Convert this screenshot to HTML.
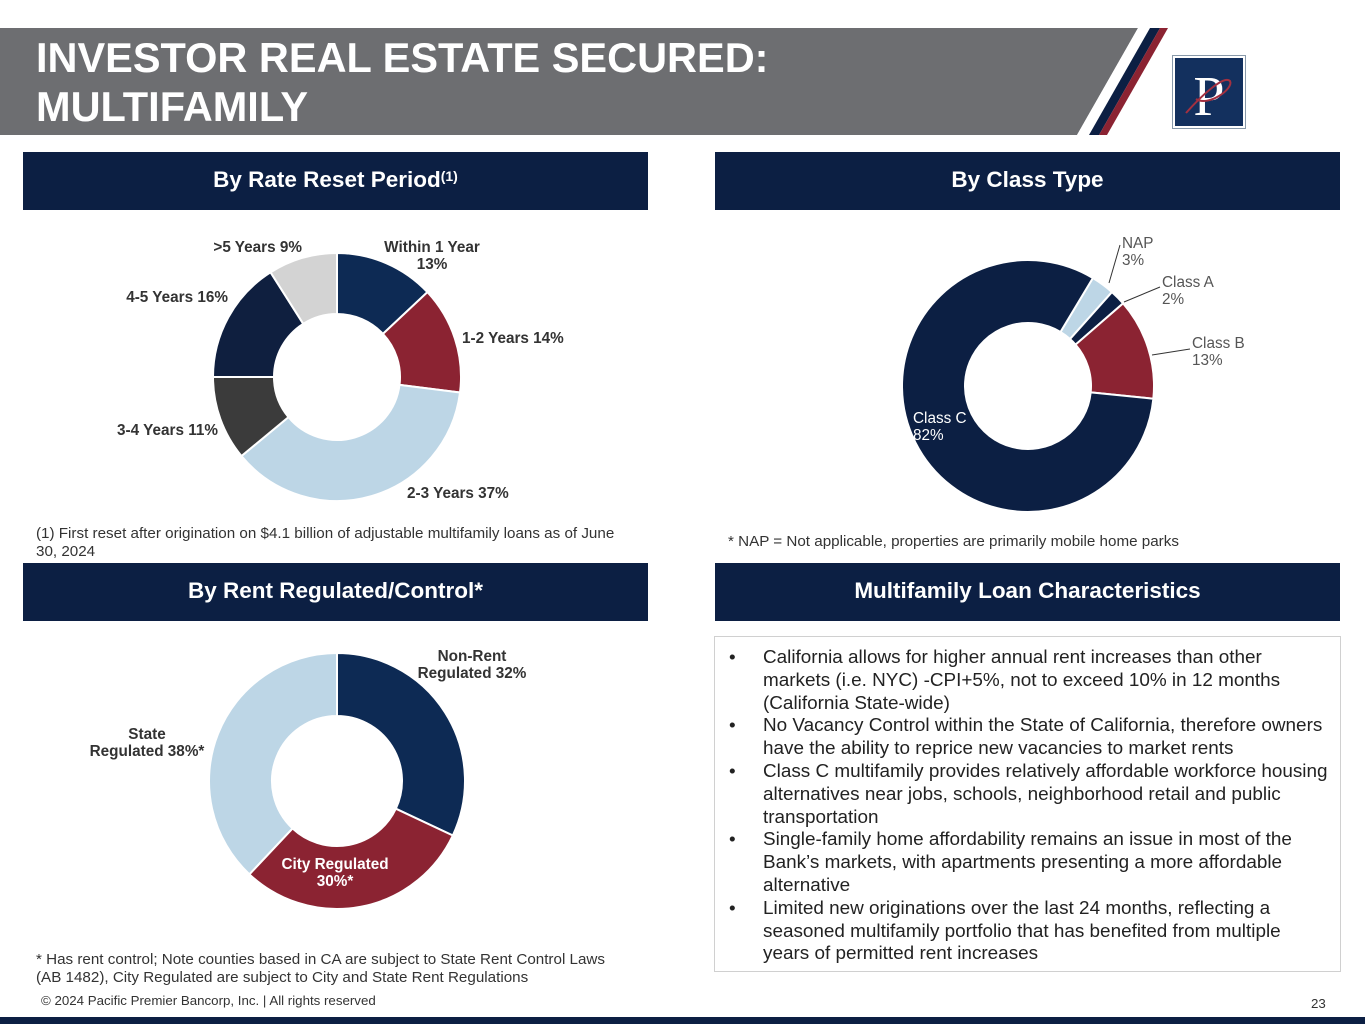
<!DOCTYPE html>
<html><head><meta charset="utf-8"><style>
body{margin:0;width:1365px;height:1024px;position:relative;background:#fff;font-family:"Liberation Sans",Arial,sans-serif;overflow:hidden}
.abs{position:absolute}
.hdr{position:absolute;background:#0c1f43;color:#fff;font-weight:bold;font-size:22.5px;display:flex;align-items:center;justify-content:center;padding-bottom:2px;box-sizing:border-box}
.bul{display:flex;font-size:18.9px;line-height:22.8px;color:#222}
.bul span:first-child{width:48px;flex:none;padding-left:14px;box-sizing:border-box}
.bul span:last-child{padding-right:8px}
</style></head><body>
<svg class="abs" style="left:0;top:0" width="1365" height="140">
<polygon points="0,28 1138,28 1077,135 0,135" fill="#6d6e71"/>
<polygon points="1138,28 1150,28 1089,135 1077,135" fill="#fff"/>
<polygon points="1150,28 1160,28 1099,135 1089,135" fill="#0c1f43"/>
<polygon points="1160,28 1168,28 1107,135 1099,135" fill="#8b2332"/>
</svg>
<div class="abs" style="left:36px;top:33px;color:#fff;font-weight:bold;font-size:41.5px;line-height:49px">INVESTOR REAL ESTATE SECURED:<br>MULTIFAMILY</div>
<svg class="abs" style="left:1172px;top:55px" width="74" height="74">
<rect x="0.5" y="0.5" width="73" height="73" fill="#fff" stroke="#8899aa"/><rect x="3" y="3" width="68" height="68" fill="#13305e"/>
<text x="37" y="60" font-family="Liberation Serif" font-size="56" fill="#fff" text-anchor="middle">P</text>
<path d="M14 58 C30 40 52 20 58 26 C62 34 36 52 24 44" fill="none" stroke="#a33040" stroke-width="2"/>
</svg>

<div class="hdr" style="left:23px;top:152px;width:625px;height:58px">By Rate Reset Period<sup style="font-size:14px;position:relative;top:-4px">(1)</sup></div>
<div class="hdr" style="left:715px;top:152px;width:625px;height:58px">By Class Type</div>
<div class="hdr" style="left:23px;top:563px;width:625px;height:58px">By Rent Regulated/Control*</div>
<div class="hdr" style="left:715px;top:563px;width:625px;height:58px">Multifamily Loan Characteristics</div>

<svg id="c1" class="abs" style="left:0;top:215px" width="680" height="300"></svg>
<svg id="c2" class="abs" style="left:700px;top:215px" width="665" height="310"></svg>
<svg id="c3" class="abs" style="left:0;top:630px" width="680" height="300"></svg>

<div class="abs" style="left:36px;top:525px;width:600px;font-size:15.2px;line-height:18px;color:#333">(1) First reset after origination on $4.1 billion of adjustable multifamily loans as of June 30, 2024</div>
<div class="abs" style="left:728px;top:533px;font-size:15.2px;color:#333">* NAP = Not applicable, properties are primarily mobile home parks</div>
<div class="abs" style="left:36px;top:951px;width:590px;font-size:15.2px;line-height:18px;color:#333">* Has rent control; Note counties based in CA are subject to State Rent Control Laws (AB 1482), City Regulated are subject to City and State Rent Regulations</div>

<div class="abs" style="left:714px;top:636px;width:627px;height:336px;border:1.5px solid #d0d0d0;box-sizing:border-box;padding-top:10px">
<div class="bul"><span>•</span><span>California allows for higher annual rent increases than other markets (i.e. NYC) -CPI+5%, not to exceed 10% in 12 months (California State-wide)</span></div>
<div class="bul"><span>•</span><span>No Vacancy Control within the State of California, therefore owners have the ability to reprice new vacancies to market rents</span></div>
<div class="bul"><span>•</span><span>Class C multifamily provides relatively affordable workforce housing alternatives near jobs, schools, neighborhood retail and public transportation</span></div>
<div class="bul"><span>•</span><span>Single-family home affordability remains an issue in most of the Bank’s markets, with apartments presenting a more affordable alternative</span></div>
<div class="bul"><span>•</span><span>Limited new originations over the last 24 months, reflecting a seasoned multifamily portfolio that has benefited from multiple years of permitted rent increases</span></div>
</div>

<div class="abs" style="left:41px;top:993px;font-size:13.3px;color:#333">© 2024 Pacific Premier Bancorp, Inc. | All rights reserved</div>
<div class="abs" style="left:1311px;top:996px;font-size:13.3px;color:#333">23</div>
<div class="abs" style="left:0;top:1017px;width:1365px;height:7px;background:#0c1f43"></div>

<script>
const rateCats=["Within 1 Year","1-2 Years","2-3 Years","3-4 Years","4-5 Years",">5 Years"];
const rateVals=[13,14,37,11,16,9];
const classCats=["NAP","Class A","Class B","Class C"];
const classVals=[3,2,13,82];
const rentCats=["Non-Rent Regulated","City Regulated","State Regulated"];
const rentVals=[32,30,38];
const NS="http://www.w3.org/2000/svg";
function arc(cx,cy,r0,r1,a0,a1){
 const p=(r,a)=>[cx+r*Math.sin(a),cy-r*Math.cos(a)];
 const L=a1-a0>Math.PI?1:0;const [x0,y0]=p(r1,a0),[x1,y1]=p(r1,a1),[x2,y2]=p(r0,a1),[x3,y3]=p(r0,a0);
 return `M${x0} ${y0}A${r1} ${r1} 0 ${L} 1 ${x1} ${y1}L${x2} ${y2}A${r0} ${r0} 0 ${L} 0 ${x3} ${y3}Z`;}
function donut(svg,cats,vals,cx,cy,r0,r1,start,colors,name){
 const tot=vals.reduce((a,b)=>a+b,0);let a=start;
 vals.forEach((v,i)=>{const a1=a+v/tot*2*Math.PI;
  const p=document.createElementNS(NS,"path");p.setAttribute("d",arc(cx,cy,r0,r1,a,a1));
  p.setAttribute("fill",colors[i]);p.setAttribute("stroke","#fff");p.setAttribute("stroke-width","2");
  
  
  svg.appendChild(p);a=a1;});}
function txt(svg,lines,x,y,anchor,opts){
 const t=document.createElementNS(NS,"text");t.setAttribute("x",x);t.setAttribute("y",y);t.setAttribute("text-anchor",anchor);
 t.setAttribute("font-size",opts.size||15);t.setAttribute("font-weight",opts.bold?"bold":"normal");t.setAttribute("fill",opts.fill||"#333");
 
 
 lines.forEach((l,i)=>{const s=document.createElementNS(NS,"tspan");s.setAttribute("x",x);s.setAttribute("dy",i?17:0);s.textContent=l;t.appendChild(s);});
 svg.appendChild(t);}
const c1=document.getElementById("c1");
donut(c1,rateCats,rateVals,337,162,63,124,0,["#0d2a54","#8b2332","#bdd6e6","#3b3b3b","#0f1f3f","#d3d3d3"],"rate");
const B={bold:true,size:15.3,fill:"#333"};
txt(c1,[rateCats[0],rateVals[0]+"%"],432,37,"middle",B);
txt(c1,[rateCats[1]+" "+rateVals[1]+"%"],462,128,"start",B);
txt(c1,[rateCats[2]+" "+rateVals[2]+"%"],407,283,"start",B);
txt(c1,[rateCats[3]+" "+rateVals[3]+"%"],218,220,"end",B);
txt(c1,[rateCats[4]+" "+rateVals[4]+"%"],228,87,"end",B);
txt(c1,[rateCats[5]+" "+rateVals[5]+"%"],302,37,"end",B);
const c2=document.getElementById("c2");
donut(c2,classCats,classVals,328,171,63,126,31*Math.PI/180,["#bdd6e6","#0c1f43","#8b2332","#0c1f43"],"class");
const N={size:15.3,fill:"#555"};
txt(c2,[classCats[0],classVals[0]+"%"],422,33,"start",N);
txt(c2,[classCats[1],classVals[1]+"%"],462,72,"start",N);
txt(c2,[classCats[2],classVals[2]+"%"],492,133,"start",N);
txt(c2,[classCats[3],classVals[3]+"%"],213,208,"start",{size:15.3,fill:"#fff"});
[[409,68,420,30],[424,87,460,72],[452,140,490,134]].forEach(l=>{const e=document.createElementNS(NS,"line");
 e.setAttribute("x1",l[0]);e.setAttribute("y1",l[1]);e.setAttribute("x2",l[2]);e.setAttribute("y2",l[3]);e.setAttribute("stroke","#333");
 
 
 c2.appendChild(e);});
const c3=document.getElementById("c3");
donut(c3,rentCats,rentVals,337,151,65,128,0,["#0d2a54","#8b2332","#bdd6e6"],"rent");
txt(c3,["Non-Rent","Regulated "+rentVals[0]+"%"],472,31,"middle",B);
txt(c3,[rentCats[1],rentVals[1]+"%*"],335,239,"middle",{bold:true,size:15.3,fill:"#fff"});
txt(c3,["State","Regulated "+rentVals[2]+"%*"],147,109,"middle",B);
</script>
</body></html>
